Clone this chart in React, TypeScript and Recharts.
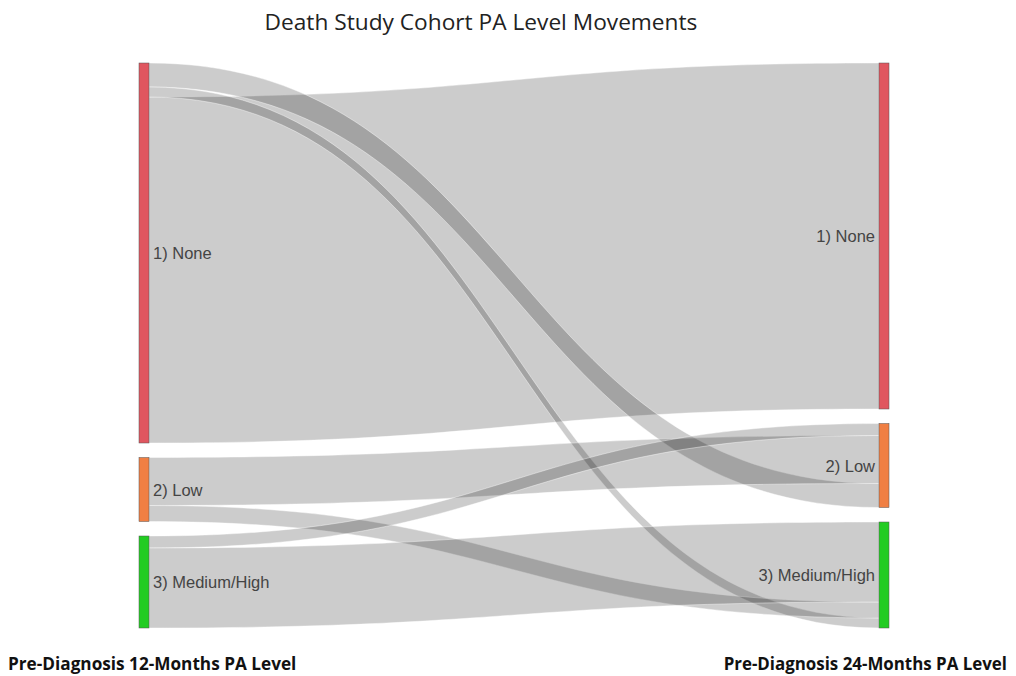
import { Sankey } from 'recharts'

// nodes: first three are the 12-month levels, last three the 24-month levels
const nodeNames = ['1) None', '2) Low', '3) Medium/High', '1) None', '2) Low', '3) Medium/High']
const nodeColors = ['#e0565f', '#f07f43', '#22cc22', '#e0565f', '#f07f43', '#22cc22']

// links
const linkSources = [0, 0, 0, 1, 1, 2, 2]
const linkTargets = [3, 4, 5, 4, 5, 4, 5]
const linkValues = [346, 24, 10, 48, 16, 12, 80]

// stacking order of the ribbons inside each node (top = 0)
const orderAtSource = [2, 0, 1, 0, 1, 0, 1]
const orderAtTarget = [0, 2, 2, 1, 1, 0, 0]

const sankeyData = {
  nodes: nodeNames.map((name) => ({ name })),
  links: linkSources.map((s, i) => ({ source: s, target: linkTargets[i], value: linkValues[i] })),
}

const stackBefore = (i: number, ends: number[], order: number[]) => {
  let sum = 0
  for (let j = 0; j < linkValues.length; j++) {
    if (ends[j] === ends[i] && order[j] < order[i]) sum += linkValues[j]
  }
  return sum
}

const LinkShape = (props: any) => {
  const { sourceX, targetX, sourceY, targetY, sourceControlX, targetControlX, linkWidth, index, payload } = props
  const sRel = props.sourceRelativeY ?? payload?.sy ?? 0
  const tRel = props.targetRelativeY ?? payload?.ty ?? 0
  const k = linkWidth / linkValues[index]
  const sTop = sourceY - linkWidth / 2 - sRel + stackBefore(index, linkSources, orderAtSource) * k
  const tTop = targetY - linkWidth / 2 - tRel + stackBefore(index, linkTargets, orderAtTarget) * k
  const sBot = sTop + linkWidth
  const tBot = tTop + linkWidth
  const d = `M${sourceX},${sTop} C${sourceControlX},${sTop} ${targetControlX},${tTop} ${targetX},${tTop}
    L${targetX},${tBot} C${targetControlX},${tBot} ${sourceControlX},${sBot} ${sourceX},${sBot} Z`
  return <path d={d} fill="#000" fillOpacity={0.2} stroke="#fff" strokeOpacity={0.6} strokeWidth={0.7} />
}

const NodeShape = (props: any) => {
  const { x, y, width, height, index } = props
  const left = index < 3
  return (
    <g>
      <rect x={x} y={y} width={width} height={height} fill={nodeColors[index]} stroke="#555" strokeWidth={0.5} />
      <text
        x={left ? x + width + 4 : x - 4}
        y={y + height / 2}
        textAnchor={left ? 'start' : 'end'}
        dominantBaseline="central"
        fontFamily="'Liberation Sans', Arial, sans-serif"
        fontSize={16.5}
        fill="#444"
      >
        {nodeNames[index]}
      </text>
    </g>
  )
}

export default function App() {
  return (
    <div style={{ position: 'relative', width: 1000, height: 668, fontFamily: "'Open Sans', sans-serif" }}>
      <div style={{ position: 'absolute', left: 0, top: 0, width: 946, textAlign: 'center', fontSize: 22.7, lineHeight: '28px', color: '#222' }}>
        Death Study Cohort PA Level Movements
      </div>
      <Sankey
        width={1000}
        height={660}
        data={sankeyData}
        node={NodeShape}
        link={LinkShape}
        nodeWidth={10}
        nodePadding={14.5}
        iterations={0}
        margin={{ top: 55, left: 131, right: 119, bottom: 40 }}
      />
      <div style={{ position: 'absolute', left: 0, top: 645, fontSize: 17.2, fontWeight: 700, lineHeight: '22px', color: '#111', whiteSpace: 'nowrap' }}>
        Pre-Diagnosis 12-Months PA Level
      </div>
      <div style={{ position: 'absolute', right: 1, top: 645, fontSize: 16.9, fontWeight: 700, lineHeight: '22px', color: '#111', whiteSpace: 'nowrap' }}>
        Pre-Diagnosis 24-Months PA Level
      </div>
    </div>
  )
}
